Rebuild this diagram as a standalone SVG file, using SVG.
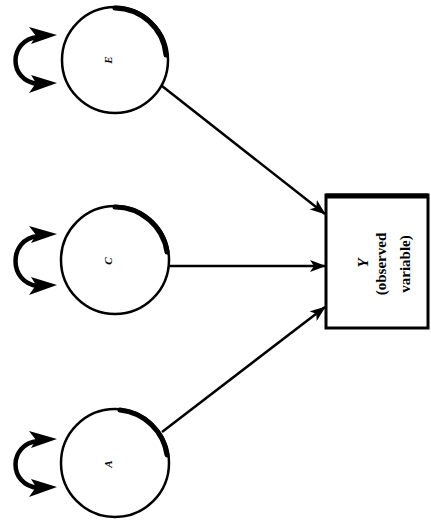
<svg xmlns="http://www.w3.org/2000/svg" width="431" height="522" viewBox="0 0 431 522">
<style>
.c{fill:#fff;stroke:#000;stroke-width:2.5}
.sh{fill:none;stroke:#000;stroke-width:5;stroke-linecap:round}
.e{fill:none;stroke:#000;stroke-width:2.5}
.lp{fill:none;stroke:#000;stroke-width:4.5}
.t{font-family:"Liberation Serif",serif;font-weight:bold;font-size:15px;text-anchor:middle;fill:#000}
.s{font-family:"Liberation Serif",serif;font-weight:bold;font-style:italic;font-size:11px;text-anchor:middle;fill:#000}
</style>
<defs>
<marker id="ah" markerWidth="16" markerHeight="12" refX="15" refY="6" orient="auto" markerUnits="userSpaceOnUse">
<path d="M0,0 L16,6 L0,12 L4,6 Z" fill="#000"/>
</marker>
</defs>
<g id="connectors">
<line class="e" x1="162" y1="86" x2="325" y2="214" marker-end="url(#ah)"/>
<line class="e" x1="169" y1="266" x2="325" y2="266" marker-end="url(#ah)"/>
<line class="e" x1="162" y1="432" x2="325" y2="307" marker-end="url(#ah)"/>
</g>
<g id="E">
<path class="lp" d="M38,37 C8,40 8,81 38,84" />
<path d="M29,27 L57,35 L31,44 L36,36 Z" fill="#000"/>
<path d="M31,75 L57,83 L29,93 L36,83 Z" fill="#000"/>
<circle class="c" cx="115" cy="60" r="53"/>
<path class="sh" d="M115,8 A52,52 0 0 1 166,55"/>
<text class="s" transform="translate(112,60) rotate(-90)">E</text>
</g>
<g id="C">
<path class="lp" d="M38,236 C8,239 8,283 38,286" />
<path d="M29,226 L57,234 L31,243 L36,235 Z" fill="#000"/>
<path d="M31,277 L57,285 L29,295 L36,285 Z" fill="#000"/>
<circle class="c" cx="115" cy="260" r="54"/>
<path class="sh" d="M115,207 A53,53 0 0 1 167,252"/>
<text class="s" transform="translate(112,261) rotate(-90)">C</text>
</g>
<g id="A">
<path class="lp" d="M38,441 C8,444 8,485 38,488" />
<path d="M29,431 L57,439 L31,448 L36,440 Z" fill="#000"/>
<path d="M31,479 L57,487 L29,497 L36,487 Z" fill="#000"/>
<circle class="c" cx="115" cy="463" r="54"/>
<path class="sh" d="M120,410 A53,53 0 0 1 167,455"/>
<text class="s" transform="translate(112,464) rotate(-90)">A</text>
</g>
<g id="Y">
<rect x="326" y="195" width="102" height="133" fill="#fff" stroke="#000" stroke-width="3"/>
<line x1="326" y1="196" x2="428" y2="196" stroke="#000" stroke-width="5"/>
<text class="t" transform="translate(368,263) rotate(-90)" font-style="italic">Y</text>
<text class="t" transform="translate(386,264) rotate(-90)">(observed</text>
<text class="t" transform="translate(410,264) rotate(-90)">variable)</text>
</g>
</svg>
